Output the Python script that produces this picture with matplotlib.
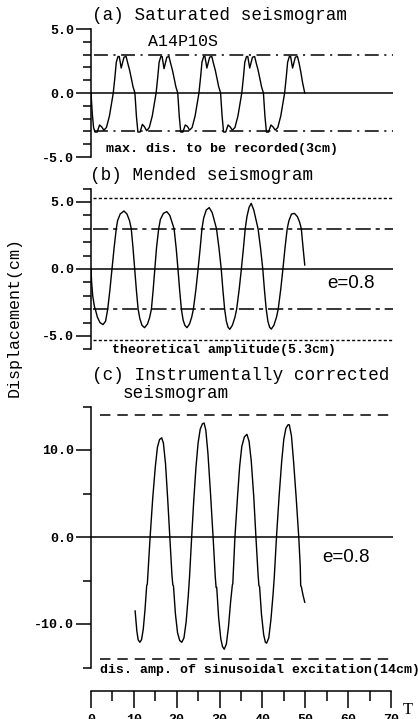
import matplotlib
matplotlib.use("Agg")
import matplotlib.pyplot as plt

plt.rcParams['lines.scale_dashes'] = False

# (a) saturated seismogram, time (s) / displacement (cm)
t_sat = [0.0, 0.3, 0.6, 0.93, 1.45, 2.0, 2.5, 3.0, 3.6, 4.3, 4.8, 5.2, 5.6, 5.9, 6.3, 6.6, 7.05, 7.7, 8.2,
         8.6, 9.0, 9.5, 9.8, 10.25,
         10.6, 10.95, 11.45, 12.0, 12.5, 13.0, 13.6, 14.3, 14.8, 15.2, 15.6, 15.9, 16.3, 16.6, 17.05, 17.7, 18.2,
         18.6, 19.0, 19.5, 19.8, 20.25,
         20.6, 20.95, 21.45, 22.0, 22.5, 23.0, 23.6, 24.3, 24.8, 25.2, 25.6, 25.9, 26.3, 26.6, 27.05, 27.7, 28.2,
         28.6, 29.0, 29.5, 29.8, 30.25,
         30.6, 30.95, 31.45, 32.0, 32.5, 33.0, 33.6, 34.3, 34.8, 35.2, 35.6, 35.9, 36.3, 36.6, 37.05, 37.7, 38.2,
         38.6, 39.0, 39.5, 39.8, 40.25,
         40.6, 40.95, 41.45, 42.0, 42.5, 43.0, 43.6, 44.3, 44.8, 45.2, 45.6, 45.9, 46.3, 46.6, 47.05, 47.7, 48.2,
         48.6, 49.0, 49.4, 49.9]
d_sat = [0.0, -1.6, -2.7, -3.05, -3.05, -2.5, -2.65, -2.9, -2.7, -1.8, -0.8, 0.0, 1.3, 2.4, 2.85, 2.85, 1.95, 2.8, 2.85,
         2.3, 1.8, 1.0, 0.5, 0.0,
         -1.8, -3.05, -3.05, -2.45, -2.65, -2.95, -2.7, -1.8, -0.8, 0.0, 1.3, 2.4, 2.85, 2.85, 1.9, 2.8, 2.85,
         2.3, 1.8, 1.0, 0.5, 0.0,
         -1.8, -3.05, -3.05, -2.5, -2.6, -2.9, -2.7, -1.8, -0.8, 0.0, 1.3, 2.4, 2.85, 2.85, 1.95, 2.8, 2.85,
         2.3, 1.8, 1.0, 0.5, 0.0,
         -1.8, -3.05, -3.05, -2.5, -2.65, -2.9, -2.7, -1.8, -0.8, 0.0, 1.3, 2.4, 2.85, 2.85, 1.95, 2.8, 2.85,
         2.3, 1.8, 1.0, 0.5, 0.0,
         -1.8, -3.05, -3.05, -2.5, -2.65, -2.9, -2.7, -1.8, -0.8, 0.0, 1.3, 2.4, 2.85, 2.85, 1.95, 2.8, 2.85,
         2.3, 1.6, 0.8, 0.0]

# (b) mended seismogram
t_mend = [0.0, 0.15, 0.4, 0.8, 1.0, 1.5, 2.1, 2.8, 3.4, 3.9, 4.4, 4.9, 5.4, 5.9, 6.2, 6.8, 7.7, 8.4, 9.0, 9.4,
          9.8, 10.2, 10.6, 11.0, 11.4, 11.9, 12.5, 13.2, 13.7, 14.1, 14.5, 14.9, 15.3, 15.8, 16.2, 16.9, 17.7,
          18.4, 18.9, 19.4, 19.9, 20.3, 20.7, 21.1, 21.5, 21.9, 22.4, 23.0, 23.5, 23.9, 24.5, 25.0, 25.5, 25.9,
          26.3, 26.9, 27.6, 28.3, 28.8, 29.3, 29.9, 30.4, 30.8, 31.2, 31.6, 32.0, 32.4, 33.0, 33.6, 34.0, 34.6,
          35.1, 35.6, 36.0, 36.4, 36.9, 37.4, 38.0, 38.5, 39.0, 39.6, 40.1, 40.5, 40.9, 41.3, 41.7, 42.1, 42.7,
          43.3, 43.7, 44.3, 44.8, 45.3, 45.8, 46.2, 46.8, 47.5, 48.2, 48.7, 49.1, 49.5, 49.9]
d_mend = [0.0, -1.0, -2.0, -2.8, -3.0, -3.6, -4.0, -4.15, -3.9, -3.0, -1.6, 0.0, 1.6, 3.0, 3.6, 4.1, 4.33, 4.1,
          3.6, 3.0, 1.6, 0.0, -1.6, -3.0, -3.7, -4.2, -4.38, -4.1, -3.6, -3.0, -1.6, 0.0, 1.6, 3.0, 3.7, 4.15,
          4.28, 4.0, 3.5, 3.0, 1.5, 0.0, -1.6, -3.0, -3.8, -4.2, -4.38, -4.1, -3.6, -3.0, -1.5, 0.0, 1.6, 3.0,
          3.8, 4.4, 4.58, 4.2, 3.6, 3.0, 1.5, 0.0, -1.6, -3.0, -3.9, -4.35, -4.5, -4.2, -3.6, -3.0, -1.5, 0.0,
          1.6, 3.0, 3.9, 4.6, 4.9, 4.4, 3.7, 3.0, 1.5, 0.0, -1.6, -3.0, -3.9, -4.35, -4.48, -4.2, -3.6, -3.0,
          -1.5, 0.0, 1.6, 3.0, 3.6, 4.1, 4.15, 3.9, 3.5, 3.0, 1.6, 0.3]

# (c) instrumentally corrected seismogram
t_corr = [10.3, 10.7, 11.0, 11.4, 11.8, 12.2, 12.6, 13.0, 13.15, 13.8, 14.4, 15.0, 15.5, 16.0, 16.5, 16.9, 17.4,
          17.9, 18.4, 18.9, 19.1, 19.25, 19.7, 20.2, 20.7, 21.2, 21.7, 22.2, 22.7, 23.0, 23.5, 24.0, 24.5, 25.0,
          25.5, 26.0, 26.4, 26.8, 27.3, 27.9, 28.5, 29.0, 29.2, 29.35, 29.8, 30.3, 30.7, 31.1, 31.6, 32.1, 32.6,
          33.0, 33.1, 33.6, 34.2, 34.7, 35.2, 35.8, 36.4, 36.9, 37.4, 38.0, 38.5, 39.0, 39.2, 39.35, 39.8, 40.3,
          40.7, 41.0, 41.5, 42.0, 42.5, 42.8, 43.3, 43.9, 44.5, 45.0, 45.5, 46.0, 46.3, 46.8, 47.3, 47.9, 48.5,
          48.85, 48.95, 49.1, 49.5, 49.9]
d_corr = [-8.5, -10.8, -11.8, -12.1, -11.8, -10.6, -8.4, -5.6, -5.4, 0.0, 4.4, 8.0, 10.3, 11.2, 11.4, 10.8, 8.4,
          4.4, 0.0, -4.4, -5.5, -5.6, -8.8, -11.0, -11.9, -12.1, -11.6, -9.8, -6.8, -4.6, 0.0, 4.3, 8.0, 10.8,
          12.4, 13.0, 13.1, 12.3, 9.6, 5.0, 0.0, -4.5, -5.8, -5.8, -9.3, -11.7, -12.6, -12.9, -12.3, -10.3, -7.4,
          -5.5, -5.4, 0.0, 4.6, 8.1, 10.4, 11.5, 11.8, 11.0, 8.8, 4.6, 0.0, -4.3, -5.6, -5.7, -8.9, -11.2, -12.1,
          -12.2, -11.6, -9.5, -6.6, -4.5, 0.0, 4.6, 8.6, 11.2, 12.5, 12.9, 12.9, 11.6, 8.6, 4.5, 0.0, -3.4, -5.6,
          -5.7, -6.7, -7.5]

clip_level = 3.0
theory_amp = 5.3
excite_amp = 14.0

W, H = 418, 719
fig = plt.figure(figsize=(W / 100, H / 100), dpi=100)

mono = 'Liberation Mono'
tick_font = dict(family=mono, size=9.5, weight='bold')


def px_axes(left, top, right, bottom):
    return fig.add_axes([left / W, 1 - bottom / H, (right - left) / W, (bottom - top) / H])


def style_panel(ax, ylim, major, labels, minor):
    ax.set_xlim(0, 70.5)
    ax.set_ylim(*ylim)
    for s in ['top', 'right', 'bottom']:
        ax.spines[s].set_visible(False)
    ax.spines['left'].set_linewidth(1.1)
    ax.set_xticks([])
    ax.set_yticks(major)
    ax.set_yticklabels(labels, fontdict=tick_font)
    ax.set_yticks(minor, minor=True)
    ax.tick_params(axis='y', which='major', length=11, width=1.1, pad=1)
    ax.tick_params(axis='y', which='minor', length=6, width=1.1)
    ax.patch.set_alpha(0)
    ax.axhline(0, color='black', lw=1.1)


# panel (a)
ax1 = px_axes(91, 29, 393, 157)
style_panel(ax1, (-5, 5), [-5, 0, 5], ['-5.0', '0.0', '5.0'], [-4, -3, -2, -1, 1, 2, 3, 4])
for lev in (clip_level, -clip_level):
    ax1.hlines(lev, 0.8, 70.5, color='black', lw=1.1, linestyles=[(0, (10, 4, 1.5, 4))])
ax1.plot(t_sat, d_sat, color='black', lw=1.0)

# panel (b)
ax2 = px_axes(91, 188.6, 393, 349.4)
style_panel(ax2, (-6, 6), [-5, 0, 5], ['-5.0', '0.0', '5.0'],
            [-6, -4, -3, -2, -1, 1, 2, 3, 4, 6])
for lev in (clip_level, -clip_level):
    ax2.hlines(lev, 0.5, 70.5, color='black', lw=1.1, linestyles=[(0, (11, 3.5, 3, 3.5))])
for lev in (theory_amp, -theory_amp):
    ax2.hlines(lev, 0.5, 70.5, color='black', lw=1.0, linestyles=[(0, (2.2, 1.6))])
ax2.plot(t_mend, d_mend, color='black', lw=1.0)

# panel (c)
ax3 = px_axes(91, 406.5, 393, 667.5)
style_panel(ax3, (-15, 15), [-10, 0, 10], ['-10.0', '0.0', '10.0'], [-15, -5, 5, 15])
for lev in (excite_amp, -excite_amp):
    ax3.hlines(lev, 2.0, 70.5, color='black', lw=1.1, linestyles=[(0, (7.5, 5))])
ax3.plot(t_corr, d_corr, color='black', lw=1.0)

# time axis
axt = px_axes(91, 689.5, 391, 690.5)
axt.set_xlim(0, 70)
axt.set_yticks([])
for s in ['top', 'right', 'left']:
    axt.spines[s].set_visible(False)
axt.spines['bottom'].set_linewidth(1.1)
axt.set_xticks(range(0, 71, 10))
axt.set_xticklabels([str(v) for v in range(0, 71, 10)], fontdict=tick_font)
axt.set_xticks(range(5, 70, 10), minor=True)
axt.tick_params(axis='x', which='major', length=12, width=1.1, pad=5)
axt.tick_params(axis='x', which='minor', length=7, width=1.1)
axt.patch.set_alpha(0)


def ftext(x, y, s, **kw):
    fig.text(x / W, 1 - y / H, s, ha='left', va='center', **kw)


ftext(92, 15, '(a) Saturated seismogram', family=mono, size=12.7)
ftext(148, 42, 'A14P10S', family=mono, size=12)
ftext(106, 149, 'max. dis. to be recorded(3cm)', family=mono, size=9.6, weight='bold')
ftext(90, 175, '(b) Mended seismogram', family=mono, size=12.7)
ftext(327, 284, 'e=0.8', family='Liberation Sans', size=13.5)
ftext(112, 350, 'theoretical amplitude(5.3cm)', family=mono, size=9.5, weight='bold')
ftext(92, 375, '(c) Instrumentally corrected', family=mono, size=12.7)
ftext(123, 393, 'seismogram', family=mono, size=12.7)
ftext(322, 557, 'e=0.8', family='Liberation Sans', size=13.5)
ftext(100, 670, 'dis. amp. of sinusoidal excitation(14cm)', family=mono, size=9.5, weight='bold')
ftext(403, 710, 'T', family='Liberation Serif', size=12)
fig.text(14 / W, 1 - 317 / H, 'Displacement(cm)', rotation=90, ha='center', va='center',
         family=mono, size=12)

fig.savefig('out.png', dpi=100)
